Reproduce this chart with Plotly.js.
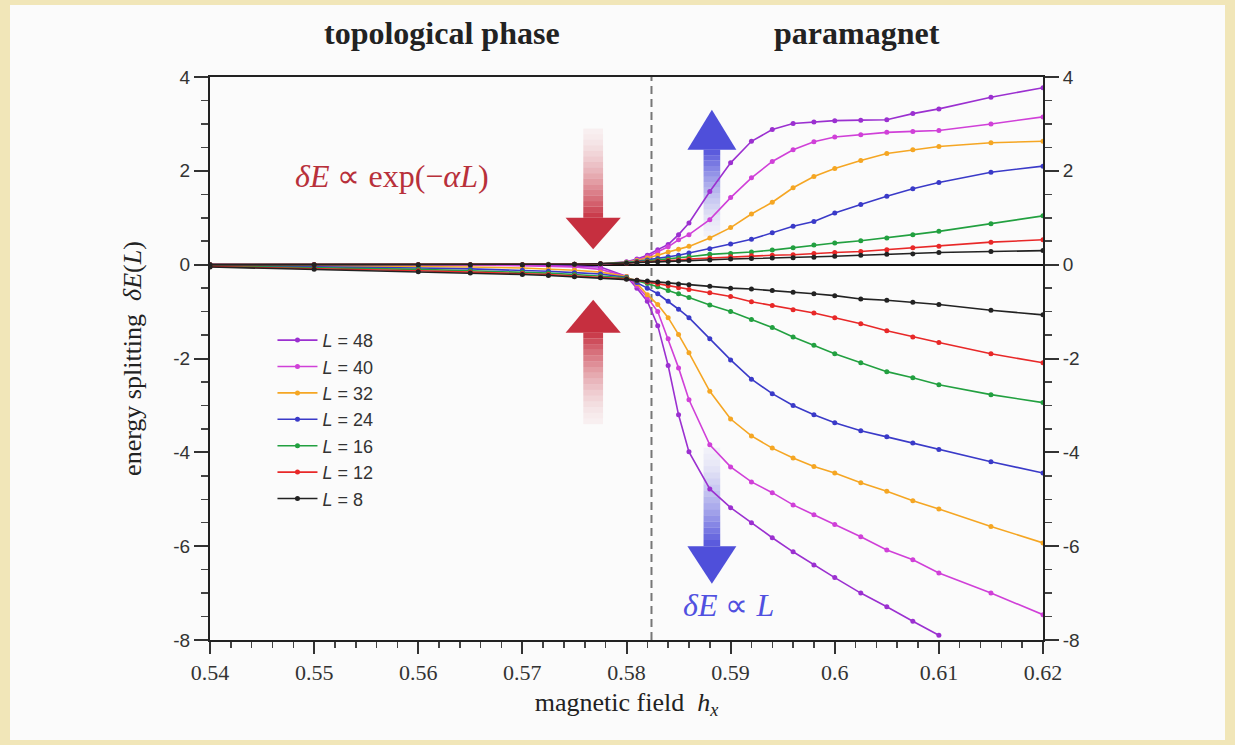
<!DOCTYPE html>
<html>
<head>
<meta charset="utf-8">
<script src="https://cdn.plot.ly/plotly-3.0.1.min.js"></script>
<style>
  html, body { margin: 0; padding: 0; width: 1235px; height: 745px; background: #f1e6b8; overflow: hidden; }
  #plot { position: absolute; left: 10px; top: 5px; width: 1215px; height: 735px; }
</style>
</head>
<body>
<div id="plot"></div>
<script>
// magnetic field grid
const hx = [0.54, 0.55, 0.56, 0.565, 0.57, 0.5725, 0.575, 0.5775, 0.58, 0.581, 0.582, 0.583, 0.584, 0.585,
            0.586, 0.588, 0.59, 0.592, 0.594, 0.596, 0.598, 0.6, 0.6025, 0.605, 0.6075, 0.61, 0.615, 0.62];
const hCritical = 0.5824;

const sizes = [48, 40, 32, 24, 16, 12, 8];
const colors = ['#9b30d0', '#d040d8', '#f5a623', '#3a3ac8', '#22a040', '#e82828', '#222222'];

// upper branch dE(L) > 0
const up48 = [0,0,0,0,0,0,0,0.02,0.06,0.12,0.2,0.32,0.43,0.64,0.89,1.56,2.17,2.63,2.88,3.01,3.04,3.07,3.08,3.09,3.22,3.32,3.57,3.77];
const up40 = [0,0,0,0,0,0,0,0.01,0.05,0.1,0.17,0.27,0.38,0.53,0.64,0.96,1.43,1.85,2.2,2.45,2.62,2.72,2.77,2.82,2.84,2.86,3.0,3.15];
const up32 = [0,0,0,0,0,0,0.01,0.02,0.05,0.09,0.14,0.2,0.27,0.33,0.39,0.57,0.79,1.08,1.33,1.64,1.88,2.05,2.22,2.37,2.45,2.52,2.6,2.63];
const up24 = [0,0,0,0,0,0,0.01,0.02,0.04,0.07,0.1,0.13,0.17,0.2,0.25,0.34,0.44,0.54,0.68,0.82,0.92,1.1,1.28,1.46,1.62,1.75,1.97,2.1];
const up16 = [0,0,0,0,0,0.01,0.01,0.02,0.04,0.06,0.08,0.1,0.12,0.14,0.17,0.22,0.24,0.27,0.31,0.36,0.42,0.46,0.51,0.57,0.64,0.71,0.87,1.04];
const up12 = [0,0,0,0,0,0,0.01,0.02,0.03,0.05,0.06,0.08,0.09,0.1,0.12,0.14,0.17,0.19,0.2,0.21,0.24,0.26,0.28,0.32,0.36,0.39,0.48,0.53];
const up8  = [0,0,0,0,0,0,0.01,0.02,0.03,0.04,0.05,0.06,0.07,0.08,0.09,0.1,0.12,0.13,0.14,0.15,0.16,0.18,0.2,0.22,0.23,0.26,0.28,0.3];

// lower branch dE(L) < 0
const lo48 = [0,0,0,-0.01,-0.01,-0.02,-0.03,-0.05,-0.25,-0.5,-0.78,-1.3,-2.15,-3.2,-3.99,-4.78,-5.18,-5.5,-5.82,-6.12,-6.4,-6.67,-7.0,-7.29,-7.6,-7.9,null,null];
const lo40 = [0,0,-0.01,-0.01,-0.02,-0.03,-0.05,-0.1,-0.25,-0.45,-0.7,-1.0,-1.58,-2.2,-2.88,-3.84,-4.31,-4.63,-4.86,-5.12,-5.33,-5.54,-5.8,-6.08,-6.29,-6.57,-7.0,-7.46];
const lo32 = [-0.01,-0.02,-0.04,-0.05,-0.07,-0.09,-0.12,-0.16,-0.25,-0.4,-0.64,-0.85,-1.13,-1.49,-1.88,-2.7,-3.29,-3.65,-3.91,-4.12,-4.3,-4.44,-4.65,-4.83,-5.03,-5.21,-5.58,-5.93];
const lo24 = [-0.02,-0.04,-0.07,-0.09,-0.12,-0.14,-0.17,-0.2,-0.27,-0.38,-0.5,-0.62,-0.78,-0.95,-1.13,-1.58,-2.03,-2.44,-2.75,-3.0,-3.2,-3.37,-3.54,-3.67,-3.8,-3.94,-4.2,-4.44];
const lo16 = [-0.03,-0.06,-0.1,-0.13,-0.16,-0.18,-0.21,-0.24,-0.28,-0.34,-0.4,-0.47,-0.55,-0.62,-0.7,-0.86,-1.0,-1.17,-1.34,-1.54,-1.72,-1.9,-2.09,-2.28,-2.41,-2.56,-2.77,-2.94];
const lo12 = [-0.04,-0.08,-0.13,-0.16,-0.19,-0.21,-0.24,-0.27,-0.3,-0.33,-0.37,-0.41,-0.45,-0.49,-0.53,-0.6,-0.68,-0.79,-0.87,-0.96,-1.03,-1.13,-1.26,-1.41,-1.54,-1.66,-1.9,-2.09];
const lo8  = [-0.05,-0.1,-0.15,-0.18,-0.21,-0.23,-0.26,-0.28,-0.31,-0.33,-0.35,-0.37,-0.39,-0.41,-0.43,-0.46,-0.5,-0.52,-0.55,-0.59,-0.62,-0.66,-0.73,-0.76,-0.8,-0.85,-0.97,-1.07];

const upper = [up48, up40, up32, up24, up16, up12, up8];
const lower = [lo48, lo40, lo32, lo24, lo16, lo12, lo8];

const xTickVals = [0.54, 0.55, 0.56, 0.57, 0.58, 0.59, 0.6, 0.61, 0.62];
const xTickText = ['0.54', '0.55', '0.56', '0.57', '0.58', '0.59', '0.6', '0.61', '0.62'];
const yTickVals = [4, 2, 0, -2, -4, -6, -8];
const yTickText = ['4', '2', '0', '-2', '-4', '-6', '-8'];

const traces = [];
sizes.forEach((L, i) => {
  const common = {
    mode: 'lines+markers',
    line: { color: colors[i], width: 1.6 },
    marker: { color: colors[i], size: 5 },
    legendgroup: 'L' + L,
    hoverinfo: 'x+y'
  };
  traces.push(Object.assign({ x: hx, y: upper[i], name: '<i>L</i> = ' + L, showlegend: true }, common));
  traces.push(Object.assign({ x: hx, y: lower[i], name: '<i>L</i> = ' + L, showlegend: false }, common));
});
// right-hand axis carrier (no visible marks)
traces.push({ x: [hx[0]], y: [null], yaxis: 'y2', mode: 'lines', showlegend: false, hoverinfo: 'skip' });

// decorative gradient arrows
function arrow(xc, yTail, yBase, yTip, shaftW, headW, color) {
  const shapes = [];
  const n = 16;
  for (let k = 0; k < n; k++) {
    const y0 = yTail + (yBase - yTail) * k / n;
    const y1 = yTail + (yBase - yTail) * (k + 1) / n;
    shapes.push({
      type: 'rect', xref: 'x', yref: 'y', layer: 'below',
      x0: xc - shaftW / 2, x1: xc + shaftW / 2, y0: y0, y1: y1,
      fillcolor: color, line: { width: 0 },
      opacity: 0.04 + 0.8 * Math.pow((k + 1) / n, 1.6)
    });
  }
  shapes.push({
    type: 'path', xref: 'x', yref: 'y', layer: 'below',
    path: `M ${xc - headW / 2},${yBase} L ${xc + headW / 2},${yBase} L ${xc},${yTip} Z`,
    fillcolor: color, line: { width: 0 }, opacity: 0.9
  });
  return shapes;
}

const shapes = [
  { type: 'line', xref: 'x', yref: 'y', x0: hCritical, x1: hCritical, y0: -8, y1: 4,
    line: { color: '#777777', width: 2, dash: '8px,5px' }, layer: 'below' },
  ...arrow(0.5768, 2.9, 1.0, 0.33, 0.0019, 0.0053, '#c0182a'),
  ...arrow(0.5768, -3.4, -1.45, -0.75, 0.0019, 0.0053, '#c0182a'),
  ...arrow(0.5882, 0.6, 2.45, 3.3, 0.0016, 0.0047, '#3c3cd6'),
  ...arrow(0.5882, -3.9, -6.0, -6.8, 0.0016, 0.0047, '#3c3cd6')
];

const serif = '"Liberation Serif", "Times New Roman", serif';
const sans = '"Liberation Sans", Arial, sans-serif';

const layout = {
  width: 1215, height: 735,
  margin: { l: 200, r: 182, t: 72, b: 100 },
  paper_bgcolor: '#fbfbfb',
  plot_bgcolor: '#fbfbfb',
  showlegend: true,
  legend: {
    x: 0.075, y: 0.565, xanchor: 'left', yanchor: 'top',
    bgcolor: 'rgba(0,0,0,0)', font: { family: sans, size: 18, color: '#333' },
    itemwidth: 40, tracegroupgap: 0
  },
  xaxis: {
    range: [0.54, 0.62], showgrid: false, zeroline: false,
    showline: true, linecolor: '#222', linewidth: 2, mirror: true,
    ticks: 'outside', ticklen: 12, tickwidth: 2, tickcolor: '#333',
    tickvals: xTickVals, ticktext: xTickText,
    tickfont: { family: serif, size: 22, color: '#333' },
    minor: { dtick: 0.002, ticklen: 6, tickwidth: 1.5, tickcolor: '#444', ticks: 'outside' },
    title: { text: 'magnetic field  <i>h<sub>x</sub></i>', font: { family: serif, size: 26, color: '#222' }, standoff: 8 }
  },
  yaxis: {
    range: [-8, 4], showgrid: false,
    zeroline: true, zerolinecolor: '#111', zerolinewidth: 2,
    showline: true, linecolor: '#222', linewidth: 2,
    ticks: 'outside', ticklen: 14, tickwidth: 2, tickcolor: '#333',
    tickvals: yTickVals, ticktext: yTickText,
    tickfont: { family: sans, size: 19, color: '#333' },
    minor: { dtick: 0.5, ticklen: 7, tickwidth: 1.5, tickcolor: '#444', ticks: 'outside' },
    title: { text: 'energy splitting  <i>δE</i>(<i>L</i>)', font: { family: serif, size: 26, color: '#222' }, standoff: 24 }
  },
  yaxis2: {
    overlaying: 'y', side: 'right', range: [-8, 4], showgrid: false, zeroline: false,
    showline: true, linecolor: '#222', linewidth: 2,
    ticks: 'outside', ticklen: 14, tickwidth: 2, tickcolor: '#333',
    tickvals: yTickVals, ticktext: yTickText,
    tickfont: { family: sans, size: 19, color: '#333' },
    minor: { dtick: 0.5, ticklen: 7, tickwidth: 1.5, tickcolor: '#444', ticks: 'outside' }
  },
  shapes: shapes,
  annotations: [
    { xref: 'paper', yref: 'paper', x: 0.2785, y: 1.078, xanchor: 'center', yanchor: 'middle',
      text: '<b>topological phase</b>', showarrow: false,
      font: { family: serif, size: 32, color: '#222' } },
    { xref: 'paper', yref: 'paper', x: 0.777, y: 1.078, xanchor: 'center', yanchor: 'middle',
      text: '<b>paramagnet</b>', showarrow: false,
      font: { family: serif, size: 32, color: '#222' } },
    { xref: 'x', yref: 'y', x: 0.5575, y: 1.88, xanchor: 'center', yanchor: 'middle',
      text: '<i>δE</i> ∝ exp(−<i>αL</i>)', showarrow: false,
      font: { family: serif, size: 32, color: '#b8303a' } },
    { xref: 'x', yref: 'y', x: 0.5898, y: -7.25, xanchor: 'center', yanchor: 'middle',
      text: '<i>δE</i> ∝ <i>L</i>', showarrow: false,
      font: { family: serif, size: 32, color: '#5050e0' } }
  ]
};

Plotly.newPlot('plot', traces, layout, { displayModeBar: false, staticPlot: true });
</script>
</body>
</html>
